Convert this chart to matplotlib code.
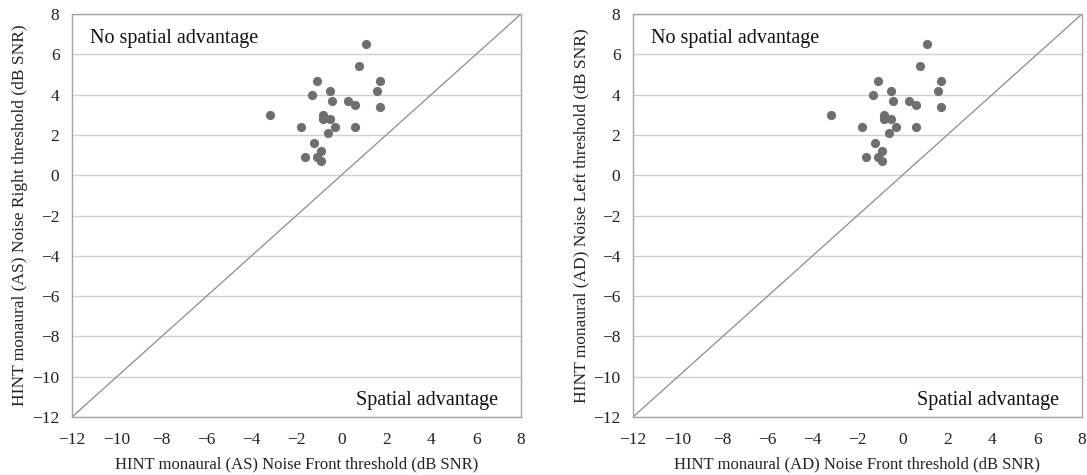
import numpy as np
import matplotlib
matplotlib.use('Agg')
from matplotlib import pyplot as plt

plt.rcParams['font.family'] = ['Liberation Serif', 'DejaVu Serif']

# left panel: AS, noise front vs noise right
as_front = [1.1, 0.8, -1.1, 1.7, -1.3, -0.5, 1.6, -0.4, 0.3, 0.6, 1.7, -3.2,
            -0.8, -0.8, -0.5, -1.8, -0.3, 0.6, -0.6, -1.2, -0.9, -1.6, -1.1, -0.9]
as_right = [6.5, 5.4, 4.7, 4.7, 4.0, 4.2, 4.2, 3.7, 3.7, 3.5, 3.4, 3.0,
            3.0, 2.8, 2.8, 2.4, 2.4, 2.4, 2.1, 1.6, 1.2, 0.9, 0.9, 0.7]

# right panel: AD, noise front vs noise left
ad_front = [1.1, 0.8, -1.1, 1.7, -1.3, -0.5, 1.6, -0.4, 0.3, 0.6, 1.7, -3.2,
            -0.8, -0.8, -0.5, -1.8, -0.3, 0.6, -0.6, -1.2, -0.9, -1.6, -1.1, -0.9]
ad_left = [6.5, 5.4, 4.7, 4.7, 4.0, 4.2, 4.2, 3.7, 3.7, 3.5, 3.4, 3.0,
           3.0, 2.8, 2.8, 2.4, 2.4, 2.4, 2.1, 1.6, 1.2, 0.9, 0.9, 0.7]

ticks = list(range(-12, 9, 2))

fig = plt.figure(figsize=(10.87, 4.75), dpi=100)
ax1 = fig.add_axes([0.0662, 0.1221, 0.4131, 0.8484])
ax2 = fig.add_axes([0.5823, 0.1221, 0.4131, 0.8484])

panels = [
    (ax1, as_front, as_right,
     'HINT monaural (AS) Noise Front threshold (dB SNR)',
     'HINT monaural (AS) Noise Right threshold (dB SNR)'),
    (ax2, ad_front, ad_left,
     'HINT monaural (AD) Noise Front threshold (dB SNR)',
     'HINT monaural (AD) Noise Left threshold (dB SNR)'),
]

for ax, xs, ys, xl, yl in panels:
    ax.set_xlim(-12, 8)
    ax.set_ylim(-12, 8)
    ax.set_xticks(ticks)
    ax.set_yticks(ticks)
    ax.set_xticklabels(['\u2212%d' % -t if t < 0 else str(t) for t in ticks])
    ax.set_yticklabels(['\u2212%d' % -t if t < 0 else str(t) for t in ticks])
    ax.tick_params(length=0, labelsize=12.5, colors='#222222', pad=9)
    ax.tick_params(axis='x', pad=11)
    ax.grid(axis='y', color='#d0d0d0', linewidth=1)
    ax.set_axisbelow(True)
    for s in ax.spines.values():
        s.set_color('#a6a6a6')
        s.set_linewidth(1)
    ax.plot([-12, 8], [-12, 8], color='#8c8c8c', linewidth=0.9)
    ax.scatter(xs, ys, s=44, color='#6f6f6f', zorder=3, linewidths=0)
    ax.set_xlabel(xl, fontsize=12, color='#222222', labelpad=6)
    ax.set_ylabel(yl, fontsize=12.5, color='#222222', labelpad=3)
    ax.text(0.04, 0.94, 'No spatial advantage', transform=ax.transAxes,
            fontsize=14.5, va='center', ha='left', color='#111111')
    ax.text(0.95, 0.04, 'Spatial advantage', transform=ax.transAxes,
            fontsize=14.5, va='center', ha='right', color='#111111')

fig.savefig('out.png', dpi=100)
